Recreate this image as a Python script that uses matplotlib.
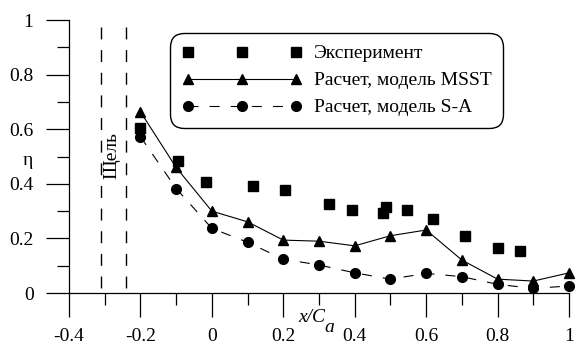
import numpy as np
import matplotlib
matplotlib.use('Agg')
import matplotlib.pyplot as plt
from matplotlib.ticker import MultipleLocator, FuncFormatter

plt.rcParams['font.family'] = ['Liberation Serif', 'DejaVu Serif']
plt.rcParams['font.size'] = 14

# Experiment
exp_x = [-0.2, -0.096, -0.017, 0.114, 0.204, 0.328, 0.393, 0.478, 0.487, 0.545, 0.62, 0.709, 0.8, 0.863]
exp_y = [0.603, 0.483, 0.408, 0.393, 0.377, 0.326, 0.304, 0.292, 0.314, 0.304, 0.27, 0.209, 0.165, 0.155]

# Calculations
calc_x = [-0.2, -0.1, 0.0, 0.1, 0.2, 0.3, 0.4, 0.5, 0.6, 0.7, 0.8, 0.9, 1.0]
msst_y = [0.664, 0.46, 0.30, 0.261, 0.194, 0.19, 0.173, 0.21, 0.231, 0.121, 0.051, 0.044, 0.074]
sa_y = [0.573, 0.383, 0.237, 0.186, 0.124, 0.103, 0.074, 0.051, 0.072, 0.06, 0.032, 0.017, 0.026]

# slot edges
slot_x = [-0.31, -0.24]

labels = ['Эксперимент', 'Расчет, модель MSST', 'Расчет, модель S-A']

fig = plt.figure(figsize=(5.75, 3.46), dpi=100)
ax = fig.add_axes([0.12, 0.153, 0.8696, 0.789])

ax.plot(exp_x, exp_y, 's', color='black', ms=6.5, clip_on=False, label=labels[0])
ax.plot(calc_x, msst_y, '-^', color='black', lw=0.8, ms=7.2, clip_on=False, label=labels[1])
ax.plot(calc_x, sa_y, 'o', color='black', ls=(0, (9, 10)), lw=0.8, ms=7, clip_on=False, label=labels[2])

for sx in slot_x:
    ax.plot([sx, sx], [0.975, 0], color='black', lw=1.0, ls=(0, (8.6, 7.7)))

ax.text(-0.279, 0.505, 'Щель', rotation=90, ha='center', va='center')

ax.set_xlim(-0.4, 1.0)
ax.set_ylim(0, 1)
ax.spines['top'].set_visible(False)
ax.spines['right'].set_visible(False)
for s in ['left', 'bottom']:
    ax.spines[s].set_linewidth(0.9)

ax.xaxis.set_major_locator(MultipleLocator(0.2))
ax.xaxis.set_minor_locator(MultipleLocator(0.1))
ax.yaxis.set_major_locator(MultipleLocator(0.2))
ax.yaxis.set_minor_locator(MultipleLocator(0.1))
fmt = FuncFormatter(lambda v, p: '%g' % round(v, 2))
ax.xaxis.set_major_formatter(fmt)
ax.yaxis.set_major_formatter(fmt)
ax.tick_params(axis='x', which='major', direction='out', length=17, width=0.9, pad=8.5)
ax.tick_params(axis='x', which='minor', direction='out', length=8.6, width=0.9)
ax.tick_params(axis='y', which='major', direction='out', length=16.5, width=0.9, pad=9)
ax.tick_params(axis='y', which='minor', direction='out', length=8.6, width=0.9)

ax.text(-0.082, 0.487, 'η', transform=ax.transAxes, ha='center', va='center')
# axis label x/C_a
xt = ax.get_xaxis_transform()
ax.text(0.3165, -0.106, 'x/C', style='italic', transform=xt, ha='right', va='baseline')
ax.text(0.3165, -0.143, 'a', style='italic', transform=xt, ha='left', va='baseline')

leg = ax.legend(loc='upper left', bbox_to_anchor=(0.202, 0.952), borderaxespad=0,
                numpoints=3, handlelength=6.2, handletextpad=0.58, borderpad=0.6,
                labelspacing=0.48, fancybox=True, framealpha=1, edgecolor='black')
frame = leg.get_frame()
frame.set_linewidth(1.0)
frame.set_boxstyle('round', pad=0, rounding_size=0.7)

fig.savefig('out.png', dpi=100)
